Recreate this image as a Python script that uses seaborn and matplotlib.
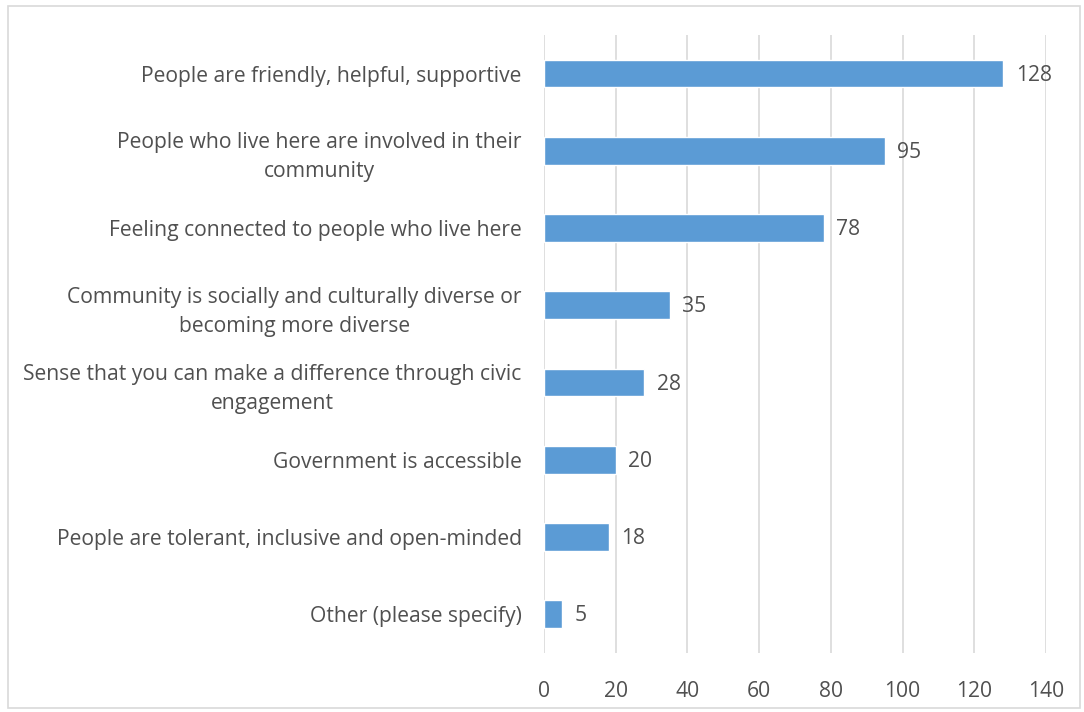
import pandas as pd
import matplotlib
matplotlib.use("Agg")
import matplotlib.pyplot as plt
import seaborn as sns
from matplotlib.patches import Rectangle

# survey answers, top to bottom
categories = [
    "People are friendly, helpful, supportive",
    "People who live here are involved in their\ncommunity",
    "Feeling connected to people who live here",
    "Community is socially and culturally diverse or\nbecoming more diverse",
    "Sense that you can make a difference through civic\nengagement",
    "Government is accessible",
    "People are tolerant, inclusive and open-minded",
    "Other (please specify)",
]
counts = [128, 95, 78, 35, 28, 20, 18, 5]
x_ticks = [0, 20, 40, 60, 80, 100, 120, 140]

df = pd.DataFrame({"answer": categories, "count": counts})

sns.set_style("white")
plt.rcParams["font.family"] = ["Open Sans", "DejaVu Sans"]
txt = "#505050"
fs = 15.2

fig = plt.figure(figsize=(10.84, 7.12), dpi=100)
ax = fig.add_axes([0.5018, 0.083, 0.4633, 0.868])

sns.barplot(data=df, x="count", y="answer", color="#5b9bd5", width=0.36,
            saturation=1, ax=ax, zorder=2)

ax.set_xlim(0, 140)
ax.set_xticks(x_ticks)
ax.xaxis.grid(True, color="#d9d9d9", linewidth=1.2, zorder=0)
ax.set_axisbelow(True)
for s in ax.spines.values():
    s.set_visible(False)
ax.set_xlabel("")
ax.set_ylabel("")
ax.tick_params(axis="both", length=0, colors=txt, labelsize=fs)
ax.tick_params(axis="x", pad=20)
ax.tick_params(axis="y", pad=16)
for lab in ax.get_yticklabels():
    lab.set_multialignment("center")
    lab.set_linespacing(1.5)

for i, v in enumerate(counts):
    ax.text(v + 3.5, i + 0.02, str(v), va="center", ha="left", color=txt, fontsize=fs)

# chart frame
fig.patches.append(Rectangle((8 / 1084, 4 / 712), 1072 / 1084, 702 / 712,
                             transform=fig.transFigure, fill=False,
                             edgecolor="#d9d9d9", linewidth=1.2))

fig.savefig("out.png", dpi=100)
